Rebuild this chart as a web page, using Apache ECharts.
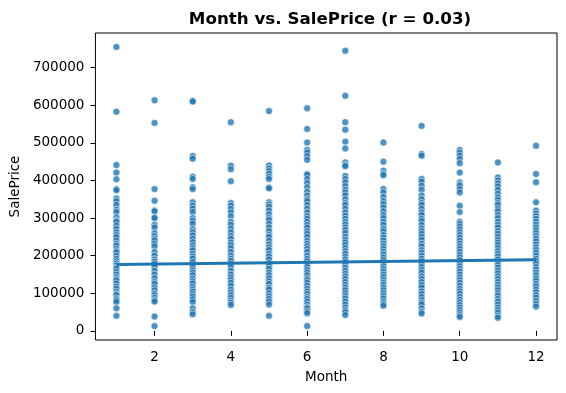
<!DOCTYPE html>
<html>
<head>
<meta charset="utf-8">
<script src="https://cdn.jsdelivr.net/npm/echarts@6/dist/echarts.min.js"></script>
<style>
html,body{margin:0;padding:0;background:#fff;}
#chart{width:566px;height:393px;}
</style>
</head>
<body>
<div id="chart"></div>
<script>
const months = [1,2,3,4,5,6,7,8,9,10,11,12];
const m1 = [755000, 582933, 441000, 421000, 403000, 377000, 374000, 352000, 345000, 335000, 322000, 316000, 302000, 293000, 290000, 280000, 271000, 262000, 255000, 249000, 240000, 232000, 227000, 218000, 212000, 209000, 200000, 192000, 185000, 179000, 174000, 168000, 165000, 157000, 150000, 143000, 138000, 134000, 126000, 118000, 112000, 104000, 98000, 95000, 86000, 82000, 77000, 60000, 40000];
const m2 = [613000, 553000, 377000, 346000, 320000, 318000, 302000, 300000, 282000, 275000, 260000, 252000, 245000, 240000, 232000, 225000, 210000, 200000, 190000, 184000, 178000, 170000, 160000, 150000, 140000, 130000, 125000, 115000, 108000, 100000, 95000, 88000, 82000, 78000, 37900, 12789];
const m3 = [611657, 610000, 465000, 458000, 410000, 404000, 382000, 377000, 342000, 333000, 325000, 316000, 300000, 293000, 285000, 270000, 262000, 254000, 245000, 236000, 227000, 220000, 214000, 205000, 198000, 192000, 183000, 174000, 168000, 161000, 155000, 148000, 139000, 132000, 126000, 117000, 110000, 104000, 97000, 91000, 84000, 77000, 60000, 50000, 44000];
const m4 = [555000, 439000, 430000, 398000, 340000, 333000, 324000, 315000, 305000, 290000, 282000, 272000, 262000, 252000, 245000, 235000, 228000, 220000, 210000, 200000, 192000, 186000, 178000, 170000, 160000, 150000, 142000, 135000, 128000, 120000, 110000, 102000, 95000, 88000, 80000, 75000, 69000];
const m5 = [584500, 440000, 432000, 425000, 418000, 410000, 404000, 381000, 379000, 342000, 336000, 330000, 320000, 310000, 300000, 295000, 285000, 275000, 265000, 255000, 250000, 240000, 230000, 222000, 215000, 205000, 198000, 190000, 180000, 172000, 165000, 155000, 148000, 140000, 132000, 125000, 115000, 110000, 100000, 92000, 85000, 78000, 70000, 40000];
const m6 = [592000, 537000, 501000, 481000, 474000, 465000, 455000, 417000, 415000, 404000, 393000, 382000, 370000, 360000, 350000, 345000, 335000, 325000, 315000, 305000, 298000, 290000, 282000, 275000, 265000, 258000, 250000, 240000, 232000, 225000, 218000, 210000, 200000, 192000, 185000, 178000, 170000, 162000, 155000, 148000, 140000, 135000, 128000, 120000, 112000, 105000, 98000, 90000, 85000, 78000, 70000, 63000, 60000, 52000, 47000, 12789];
const m7 = [745000, 625000, 555000, 535000, 503000, 485000, 448000, 441000, 438000, 412000, 404000, 395000, 385000, 375000, 368000, 360000, 350000, 340000, 335000, 325000, 315000, 306000, 298000, 290000, 283000, 275000, 268000, 260000, 250000, 242000, 235000, 228000, 220000, 212000, 205000, 197000, 190000, 183000, 175000, 168000, 160000, 152000, 145000, 138000, 130000, 122000, 115000, 108000, 100000, 93000, 86000, 78000, 70000, 62000, 55000, 50000, 42000];
const m8 = [501000, 450000, 426000, 418000, 414000, 377000, 368000, 356000, 345000, 337000, 328000, 318000, 308000, 300000, 290000, 282000, 272000, 265000, 255000, 248000, 240000, 232000, 225000, 218000, 210000, 203000, 195000, 188000, 180000, 172000, 165000, 158000, 150000, 143000, 135000, 128000, 122000, 115000, 108000, 100000, 93000, 86000, 78000, 72000, 67000];
const m9 = [545000, 470000, 466000, 404000, 397000, 386000, 375000, 360000, 350000, 340000, 335000, 325000, 315000, 308000, 298000, 292000, 282000, 272000, 265000, 258000, 250000, 242000, 232000, 225000, 215000, 208000, 200000, 192000, 185000, 178000, 170000, 162000, 155000, 145000, 138000, 130000, 122000, 115000, 105000, 98000, 90000, 82000, 75000, 70000, 60000, 51000, 46000];
const m10 = [481000, 474000, 466000, 457000, 446000, 421000, 395000, 390000, 386000, 377000, 368000, 333000, 316000, 290000, 285000, 278000, 270000, 262000, 255000, 248000, 240000, 232000, 225000, 218000, 210000, 202000, 195000, 188000, 180000, 172000, 165000, 158000, 150000, 142000, 135000, 128000, 120000, 112000, 105000, 98000, 90000, 83000, 76000, 69000, 62000, 55000, 48000, 42000, 37000];
const m11 = [448000, 408000, 400000, 392000, 384000, 375000, 365000, 355000, 348000, 340000, 335000, 325000, 318000, 308000, 300000, 290000, 282000, 275000, 265000, 258000, 250000, 242000, 235000, 228000, 220000, 212000, 205000, 198000, 190000, 183000, 175000, 168000, 160000, 153000, 145000, 138000, 130000, 122000, 115000, 108000, 100000, 93000, 85000, 78000, 70000, 62000, 55000, 48000, 40000, 35000];
const m12 = [492000, 417000, 395000, 342000, 320000, 312000, 305000, 298000, 290000, 282000, 275000, 268000, 260000, 252000, 245000, 238000, 230000, 222000, 215000, 208000, 200000, 192000, 185000, 178000, 170000, 163000, 155000, 148000, 140000, 133000, 125000, 118000, 110000, 103000, 95000, 88000, 80000, 72000, 65000];
const priceByMonth = [m1, m2, m3, m4, m5, m6, m7, m8, m9, m10, m11, m12];
const fitX = [1, 12];
const fitY = [176500, 189000];
const xTicks = [2, 4, 6, 8, 10, 12];
const yTicks = [0, 100000, 200000, 300000, 400000, 500000, 600000, 700000];
const titleText = 'Month vs. SalePrice (r = 0.03)';

const scatterData = [];
months.forEach((m, i) => priceByMonth[i].forEach(v => scatterData.push([m, v])));
const lineData = fitX.map((x, i) => [x, fitY[i]]);

const font = 'DejaVu Sans';
const chart = echarts.init(document.getElementById('chart'), null, {renderer: 'canvas'});
chart.setOption({
  animation: false,
  backgroundColor: '#fff',
  title: {
    text: titleText,
    left: 325, textAlign: 'center', top: 6,
    textStyle: {fontFamily: font, fontWeight: 'bold', fontSize: 16.7, color: '#000'}
  },
  grid: {left: 93, right: 9, top: 33, bottom: 53, show: true, borderColor: '#000', borderWidth: 1, backgroundColor: 'transparent'},
  xAxis: {
    type: 'value', min: 0.45, max: 12.55,
    name: 'Month', nameLocation: 'middle', nameGap: 30,
    nameTextStyle: {fontFamily: font, fontSize: 13.5, color: '#000'},
    axisLine: {show: false},
    axisTick: {show: true, length: 5, lineStyle: {color: '#000'}, customValues: xTicks},
    axisLabel: {fontFamily: font, fontSize: 13.5, color: '#000', margin: 10, customValues: xTicks},
    splitLine: {show: false}
  },
  yAxis: {
    type: 'value', min: -24321, max: 792110,
    name: 'SalePrice', nameLocation: 'middle', nameGap: 65,
    nameTextStyle: {fontFamily: font, fontSize: 13.5, color: '#000'},
    axisLine: {show: false},
    axisTick: {show: true, length: 5, lineStyle: {color: '#000'}, customValues: yTicks},
    axisLabel: {fontFamily: font, fontSize: 13.5, color: '#000', margin: 11, customValues: yTicks, formatter: v => String(v)},
    splitLine: {show: false}
  },
  series: [
    {
      type: 'scatter', data: scatterData, symbolSize: 7,
      itemStyle: {color: '#1f77b4', opacity: 0.8, borderColor: '#fff', borderWidth: 0.7}
    },
    {
      type: 'line', data: lineData, symbol: 'none', z: 5,
      lineStyle: {color: '#1f77b4', width: 3}
    }
  ]
});
</script>
</body>
</html>
